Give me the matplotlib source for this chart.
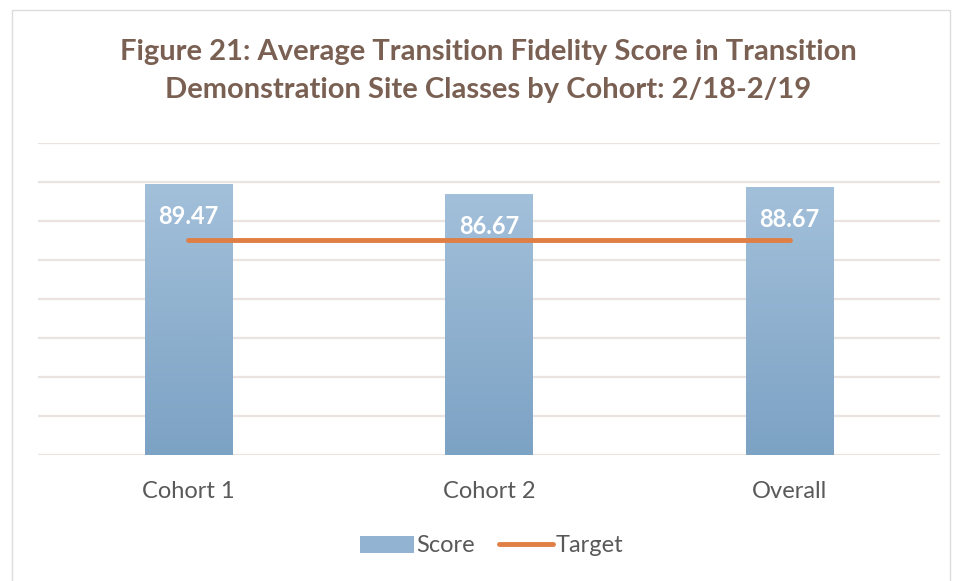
import matplotlib
matplotlib.use("Agg")
import matplotlib.pyplot as plt
import numpy as np
from matplotlib.patches import Rectangle, Patch
from matplotlib.lines import Line2D

plt.rcParams.update({"font.family": ["Lato", "DejaVu Sans"]})

categories = ["Cohort 1", "Cohort 2", "Overall"]
scores = [89.47, 86.67, 88.67]
target = [75, 75, 75]

TITLE = "#7a6053"; TXT = "#595959"; GRID = "#ebe3e0"
BAR_TOP = "#a3c0da"; BAR_BOT = "#7ca2c4"; LINE = "#e07f45"

fig = plt.figure(figsize=(9.56, 5.81), dpi=100)
fig.patches.append(Rectangle((12 / 956, -0.01), 938 / 956, 1 - 10 / 581 + 0.01,
                             transform=fig.transFigure, fill=False,
                             ec="#dcdcdc", lw=1.0))
ax = fig.add_axes([38 / 956, 1 - 455 / 581, 902 / 956, 312 / 581])
x = np.arange(len(categories))
ax.set_xlim(-0.5, 2.5)
ax.set_ylim(20, 100)
ax.set_yticks(np.arange(20, 101, 10))
ax.yaxis.grid(True, color=GRID, lw=1.6)
ax.set_axisbelow(True)
ax.tick_params(axis="y", left=False, labelleft=False)
ax.tick_params(axis="x", bottom=False, labelsize=17, labelcolor=TXT, pad=15)
ax.set_xticks(x)
ax.set_xticklabels(categories)
for s in ax.spines.values():
    s.set_visible(False)

w = 0.29
bars = ax.bar(x, [v - 20 for v in scores], bottom=20, width=w, color="none")
grad = np.linspace(0, 1, 256).reshape(-1, 1)
cmap = matplotlib.colors.LinearSegmentedColormap.from_list("g", [BAR_BOT, BAR_TOP])
for b, v in zip(bars, scores):
    x0 = b.get_x()
    ax.imshow(grad, cmap=cmap, origin="lower", aspect="auto",
              extent=(x0, x0 + w, 20, v), zorder=2)
    ax.text(b.get_x() + w / 2, v - 8.2, f"{v:.2f}", ha="center", va="center",
            color="white", fontsize=17, fontweight="bold", zorder=4)
ax.set_xlim(-0.5, 2.5)
ax.set_ylim(20, 100)

ax.plot(x, target, color=LINE, lw=3.5, solid_capstyle="round", zorder=3)

fig.text(0.511, 1 - 52 / 581, "Figure 21: Average Transition Fidelity Score in Transition",
         ha="center", va="center", fontsize=21, fontweight="bold", color=TITLE)
fig.text(0.511, 1 - 90 / 581, "Demonstration Site Classes by Cohort: 2/18-2/19",
         ha="center", va="center", fontsize=21, fontweight="bold", color=TITLE)

handles = [Patch(fc="#93b3d3", ec="none"),
           Line2D([0], [0], color=LINE, lw=3.5, solid_capstyle="round")]
fig.legend(handles, ["Score", "Target"], loc="center", bbox_to_anchor=(0.514, 1 - 546 / 581),
           ncol=2, frameon=False, fontsize=17, labelcolor=TXT, handlelength=2.3,
           handletextpad=0.1, columnspacing=1.0)

fig.savefig("out.png", dpi=100)
